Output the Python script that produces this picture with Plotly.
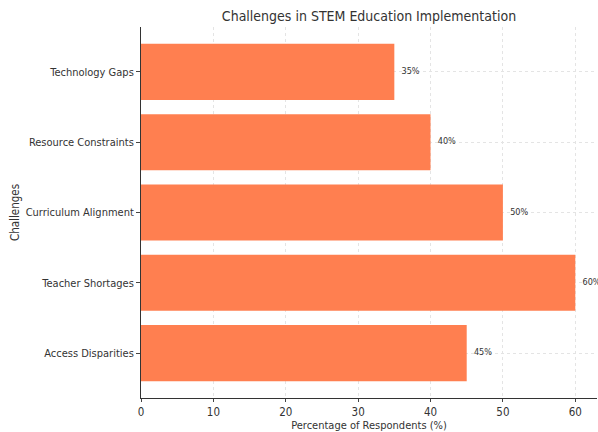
import plotly.graph_objects as go

categories = ["Access Disparities", "Teacher Shortages", "Curriculum Alignment",
              "Resource Constraints", "Technology Gaps"]
values = [45, 60, 50, 40, 35]
labels = [f"{v}%" for v in values]
x_ticks = [0, 10, 20, 30, 40, 50, 60]

FONT = "DejaVu Sans Condensed, DejaVu Sans, sans-serif"

fig = go.Figure()
fig.add_trace(go.Bar(
    y=categories, x=values, orientation="h",
    marker=dict(color="#FF7F50", line=dict(width=0)),
    width=0.8,
))
fig.add_trace(go.Scatter(
    y=categories, x=[v + 1 for v in values], mode="text",
    text=labels, textposition="middle right",
    textfont=dict(family=FONT, size=9, color="#333333"),
    cliponaxis=False, hoverinfo="skip",
))

fig.update_layout(
    width=598, height=432,
    margin=dict(l=141, r=1, t=27, b=34),
    plot_bgcolor="white", paper_bgcolor="white",
    showlegend=False,
    font=dict(family=FONT, size=11, color="#333333"),
    title=dict(text="Challenges in STEM Education Implementation",
               x=369 / 598, xanchor="center",
               y=1 - 16 / 432, yanchor="middle",
               font=dict(family=FONT, size=14, color="#333333")),
    bargap=0.2,
)
fig.update_xaxes(
    range=[0, 63], tickvals=x_ticks, ticks="outside", ticklen=3,
    showline=True, linecolor="#333333", linewidth=1,
    showgrid=True, gridcolor="#e4e4e4", griddash="dot", gridwidth=1,
    zeroline=False,
    title=dict(text="Percentage of Respondents (%)", standoff=2,
               font=dict(family=FONT, size=11)),
    tickfont=dict(family=FONT, size=11.5),
)
fig.update_yaxes(
    range=[-0.64, 4.64], ticks="outside", ticklen=4,
    showline=True, linecolor="#333333", linewidth=1,
    showgrid=True, gridcolor="#e4e4e4", griddash="dot", gridwidth=1,
    zeroline=False,
    title=dict(text="Challenges", standoff=3, font=dict(family=FONT, size=11.5)),
    tickfont=dict(family=FONT, size=11),
)

fig.write_html("out.html")
